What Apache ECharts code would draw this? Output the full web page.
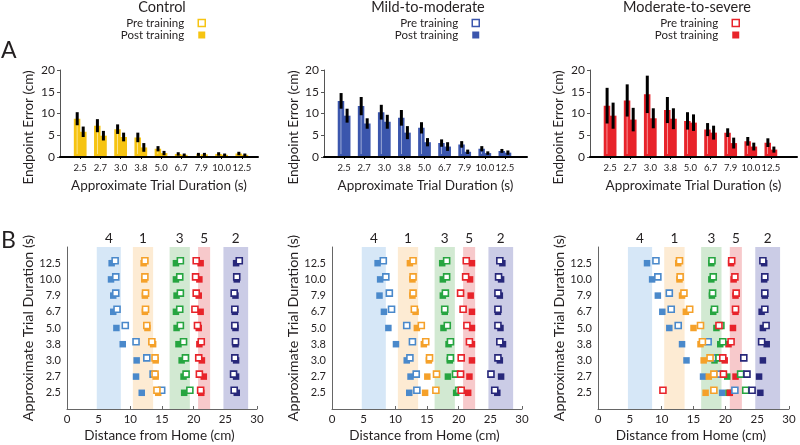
<!DOCTYPE html>
<html><head><meta charset="utf-8">
<script src="https://cdn.jsdelivr.net/npm/echarts@6/dist/echarts.min.js"></script>
<style>html,body{margin:0;padding:0;background:#fff}#c{width:800px;height:445px}</style>
</head><body><div id="c"></div>
<script>
// ---------- DATA ----------
const durations = ['2.5','2.7','3.0','3.8','5.0','6.7','7.9','10.0','12.5'];
const panelTitles = ['Control','Mild-to-moderate','Moderate-to-severe'];

// Panel A: endpoint error (cm), mean and error half-length
const controlPre = [8.8,7.2,6.4,4.5,1.9,0.7,0.6,0.7,0.8];
const controlPreErr = [1.5,1.5,1.1,1.1,0.6,0.4,0.35,0.4,0.4];
const controlPost = [5.8,4.9,4.6,2.2,0.9,0.5,0.6,0.5,0.5];
const controlPostErr = [1.2,1.1,1.0,1.0,0.5,0.3,0.35,0.3,0.3];

const mildPre = [12.9,11.7,10.3,9.0,6.7,3.2,2.9,1.9,1.4];
const mildPreErr = [1.8,2.1,1.7,1.8,1.3,0.85,0.75,0.6,0.45];
const mildPost = [9.5,7.7,8.1,5.6,3.4,2.4,1.2,0.9,1.0];
const mildPostErr = [1.6,1.2,1.6,1.5,0.95,1.0,0.5,0.4,0.5];

const severePre = [11.8,13.0,14.4,10.8,8.3,6.3,5.6,3.6,3.3];
const severePreErr = [4.1,3.7,4.3,3.0,2.0,1.5,1.0,1.0,1.0];
const severePost = [9.5,8.6,8.9,8.8,7.9,5.6,3.2,2.4,1.7];
const severePostErr = [3.0,2.7,2.3,2.4,1.9,1.6,1.25,0.9,0.7];

// Panel B: targets (in order 4,1,3,5,2) and their zones (cm)
const targetLabels = ['4','1','3','5','2'];
const zoneLow = [4.7,10.4,16.2,20.7,24.7];
const zoneHigh = [8.5,13.6,19.4,22.6,28.6];

// endpoint distance (cm) per target, rows = durations 2.5 ... 12.5
const controlPostX = [
  [11.8,10.9,11.0,8.8,7.8,7.3,7.3,6.95,7.05],
  [14.4,14.0,14.0,13.6,12.7,12.3,12.3,12.2,12.1],
  [18.5,18.4,18.1,17.6,17.3,17.2,17.3,17.2,17.2],
  [21.2,21.6,21.3,20.9,20.8,21.1,20.8,20.9,21.1],
  [26.8,26.7,26.7,26.6,26.6,26.5,26.6,26.8,26.7]
];
const controlPreX = [
  [14.95,13.6,12.6,10.9,9.2,7.9,7.7,7.7,7.6],
  [14.2,13.9,13.9,13.4,12.6,12.4,12.4,12.3,12.3],
  [19.4,18.8,18.7,18.4,17.9,17.8,17.9,17.8,17.9],
  [21.1,20.9,20.8,21.2,20.6,20.2,20.4,20.3,20.4],
  [26.4,26.3,26.5,26.6,26.5,26.5,26.4,26.8,27.2]
];
const mildPostX = [
  [12.2,12.4,11.8,10.1,8.9,8.2,7.5,7.6,7.2],
  [14.7,15.05,15.3,14.5,13.4,13.2,12.7,12.7,12.3],
  [19.6,18.3,18.6,18.4,17.6,17.8,17.5,17.5,17.4],
  [21.5,21.7,22.1,22.1,22.1,22.1,21.9,21.8,22.1],
  [26.1,26.7,26.5,27.0,26.6,26.2,26.5,26.7,26.9]
];
const mildPreX = [
  [13.4,13.3,12.3,12.7,11.8,9.4,9.05,8.5,8.1],
  [16.4,16.5,15.4,14.8,14.1,13.0,12.8,12.8,12.8],
  [20.0,19.5,18.7,18.7,18.2,17.8,17.9,18.1,18.1],
  [20.4,20.3,20.4,21.7,21.3,20.7,20.3,21.1,21.2],
  [25.7,25.1,26.2,26.5,26.2,26.2,26.2,26.3,26.5]
];
const severePostX = [
  [19.5,16.5,13.9,13.2,11.2,10.1,9.4,8.5,7.7],
  [16.9,17.4,16.6,16.1,15.0,13.8,13.2,12.8,12.6],
  [20.5,20.3,18.3,19.2,18.6,18.1,17.9,17.8,17.8],
  [20.7,21.6,19.9,20.5,21.2,21.6,21.6,21.3,20.9],
  [25.5,25.3,25.9,26.5,25.9,25.7,26.2,26.1,26.1]
];
const severePreX = [
  [21.5,19.1,18.0,17.3,12.6,11.5,11.2,9.4,9.1],
  [18.2,18.2,17.6,16.4,16.1,14.4,13.5,12.9,12.8],
  [23.2,22.4,19.0,19.6,19.3,18.3,18.0,18.1,17.9],
  [10.2,19.7,19.6,20.9,19.0,21.6,21.7,21.5,21.0],
  [24.2,23.4,22.9,25.7,26.4,26.2,26.2,26.2,25.9]
];

// ---------- STYLE ----------
const FONT = 'Lato';
const TXT = '#231f20';
const barColors = ['#f6c412','#3b56ad','#e8232a'];
const targetColors = ['#4a89cb','#f5a12a','#26a540','#e8232a','#27277a'];
const zoneColors = ['#d6e7f7','#fdebd3','#d2e9d2','#f7c9cb','#cbcce6'];

const topLayout = [{left:60,width:198,max:9.8,gap:24,legendRight:594,titleX:162},
                   {left:324,width:203,max:10.1,gap:23,legendRight:320,titleX:428},
                   {left:590,width:207,max:10.3,gap:24,legendRight:60,titleX:687}];
const botLayout = [{left:67,width:190,gap:27},{left:332,width:190,gap:24},{left:598,width:191,gap:28}];

const barData = [
  [controlPre,controlPreErr,controlPost,controlPostErr],
  [mildPre,mildPreErr,mildPost,mildPostErr],
  [severePre,severePreErr,severePost,severePostErr]
];
const scatterData = [[controlPreX,controlPostX],[mildPreX,mildPostX],[severePreX,severePostX]];
const catValues = durations.map((d,i)=>i+1);
const catFmt = v => (Number.isInteger(v) && v>=1 && v<=durations.length) ? durations[v-1] : '';
const SQ = 'path://M0,0L10,0L10,10L0,10Z';

const grid=[], xAxis=[], yAxis=[], series=[], legend=[];
const title=[
  {text:'A',left:1,top:39,padding:0,textStyle:{fontFamily:FONT,fontSize:23,fontWeight:'normal',color:TXT}},
  {text:'B',left:1,top:229,padding:0,textStyle:{fontFamily:FONT,fontSize:23,fontWeight:'normal',color:TXT}}
];

for(let p=0;p<3;p++){
  const L=topLayout[p], col=barColors[p];
  title.push({text:panelTitles[p],left:L.titleX,top:0,textAlign:'center',padding:0,
    textStyle:{fontFamily:FONT,fontSize:14.5,fontWeight:'normal',color:TXT}});
  legend.push({selectedMode:false,orient:'vertical',right:L.legendRight,top:17,padding:0,
    itemWidth:25,itemHeight:7,itemGap:0,align:'right',
    textStyle:{fontFamily:FONT,fontSize:11.5,color:TXT},
    data:[{name:'Pre training',icon:SQ,itemStyle:{color:'#fff',borderColor:col,borderWidth:1.5}},
          {name:'Post training',icon:SQ,itemStyle:{color:col,borderWidth:0}}]});
  grid.push({left:L.left,top:70,width:L.width,height:87});
  xAxis[p]={type:'value',gridIndex:p,min:0,max:L.max,interval:1,z:10,
    axisLine:{show:true,onZero:false,lineStyle:{color:'#000',width:2}},
    axisTick:{show:true,length:2,customValues:catValues,lineStyle:{color:'#000'}},
    axisLabel:{customValues:catValues,formatter:catFmt,fontFamily:FONT,fontSize:9.5,color:TXT,margin:6},
    splitLine:{show:false},
    name:'Approximate Trial Duration (s)',nameLocation:'middle',nameGap:22,
    nameTextStyle:{fontFamily:FONT,fontSize:13.5,color:TXT}};
  yAxis[p]={type:'value',gridIndex:p,min:0,max:20,interval:5,
    axisLine:{show:true,lineStyle:{color:'#555',width:1}},
    axisTick:{show:true,length:3,lineStyle:{color:'#555'}},
    axisLabel:{fontFamily:FONT,fontSize:12,color:TXT,margin:5},
    splitLine:{show:false},
    name:'{t|Endpoint Error (cm)}{s|\u00a0}',nameLocation:'middle',nameGap:L.gap,
    nameTextStyle:{fontFamily:FONT,fontSize:13.5,color:TXT,
      rich:{t:{fontFamily:FONT,fontSize:13.5,color:TXT},s:{width:28,fontSize:13.5}}}};
  const [pre,preErr,post,postErr]=barData[p];
  series.push({type:'bar',name:'Pre training',xAxisIndex:p,yAxisIndex:p,z:3,
    barWidth:6.5,barGap:'-11.5%',
    itemStyle:{color:'#fff',borderColor:col,borderWidth:3},
    data:pre.map((v,i)=>[i+1,v])});
  series.push({type:'bar',name:'Post training',xAxisIndex:p,yAxisIndex:p,z:2,
    barWidth:7,barGap:'-11.5%',
    itemStyle:{color:col},
    data:post.map((v,i)=>[i+1,v])});
  [[pre,preErr,-3],[post,postErr,3]].forEach(([vals,errs,off])=>{
    series.push({type:'custom',xAxisIndex:p,yAxisIndex:p,z:4,silent:true,
      encode:{x:0,y:1},
      data:vals.map((v,i)=>[i+1,v,errs[i]]),
      renderItem:(params,api)=>{
        const x=api.value(0),v=api.value(1),e=api.value(2);
        const t=api.coord([x,v+e]), b=api.coord([x,Math.max(0,v-e)]);
        return {type:'rect',shape:{x:t[0]+off-1.5,y:t[1],width:3,height:b[1]-t[1]},style:{fill:'#000'}};
      }});
  });
}
for(let p=0;p<3;p++){
  const B=botLayout[p];
  grid.push({left:B.left,top:247,width:B.width,height:162});
  xAxis[p+3]={type:'value',gridIndex:p+3,min:0,max:30,interval:5,
    axisLine:{show:true,onZero:false,lineStyle:{color:'#666',width:1}},
    axisTick:{show:true,inside:true,length:3,lineStyle:{color:'#666'}},
    axisLabel:{fontFamily:FONT,fontSize:11.5,color:TXT,margin:4},
    splitLine:{show:false},
    name:'Distance from Home (cm)',nameLocation:'middle',nameGap:20,
    nameTextStyle:{fontFamily:FONT,fontSize:13.5,color:TXT,padding:[0,5,0,0]}};
  yAxis[p+3]={type:'value',gridIndex:p+3,min:0,max:10,interval:1,
    axisLine:{show:true,onZero:false,lineStyle:{color:'#666',width:1}},
    axisTick:{show:false},
    axisLabel:{customValues:catValues,formatter:catFmt,fontFamily:FONT,fontSize:11,color:TXT,margin:6},
    splitLine:{show:false},
    name:'Approximate Trial Duration (s)',nameLocation:'middle',nameGap:B.gap,
    nameTextStyle:{fontFamily:FONT,fontSize:14.3,color:TXT}};
  const [preX,postX]=scatterData[p];
  for(let t=0;t<5;t++){
    const c=targetColors[t];
    series.push({type:'scatter',name:'post '+targetLabels[t],xAxisIndex:p+3,yAxisIndex:p+3,z:2,
      symbol:'rect',symbolSize:6.5,itemStyle:{color:c,opacity:1},
      data:postX[t].map((x,i)=>[x,i+1]),
      markArea:{silent:true,z:1,itemStyle:{color:zoneColors[t],opacity:1,borderWidth:0},
        label:{show:true,position:'top',distance:1,fontFamily:FONT,fontSize:13.5,color:TXT},
        data:[[{name:targetLabels[t],xAxis:zoneLow[t]},{xAxis:zoneHigh[t]}]]}});
  }
  for(let t=0;t<5;t++){
    const c=targetColors[t];
    series.push({type:'scatter',name:'pre '+targetLabels[t],xAxisIndex:p+3,yAxisIndex:p+3,z:3,
      symbol:'rect',symbolSize:6,symbolOffset:[0,-2.5],
      itemStyle:{color:'#fff',borderColor:c,borderWidth:1.6,opacity:1},
      data:preX[t].map((x,i)=>[x,i+1])});
  }
}

const chart=echarts.init(document.getElementById('c'),null,{renderer:'canvas'});
chart.setOption({animation:false,backgroundColor:'#fff',textStyle:{fontFamily:FONT},
  title,legend,grid,xAxis,yAxis,series,tooltip:{show:false}});
</script></body></html>
